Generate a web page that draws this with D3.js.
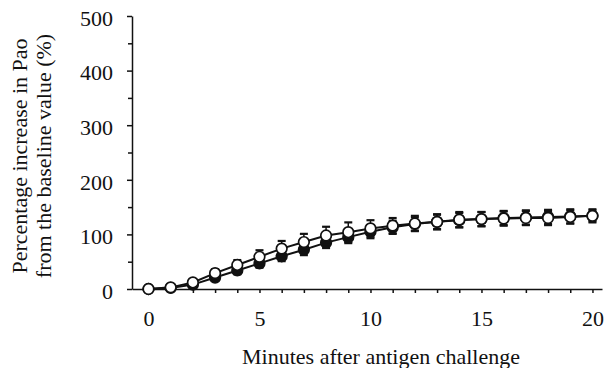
<!DOCTYPE html>
<html>
<head>
<meta charset="utf-8">
<script src="https://cdn.jsdelivr.net/npm/d3@7"></script>
<style>
  body { margin: 0; background: #fff; }
  svg text { font-family: 'Liberation Serif', 'DejaVu Serif', serif !important; }
</style>
</head>
<body>
<svg id="vis" width="604" height="368"></svg>
<script>
const svg = d3.select("#vis");

// values (percent increase, minutes)
const minutes = [0, 1, 2, 3, 4, 5, 6, 7, 8, 9, 10, 11, 12, 13, 14, 15, 16, 17, 18, 19, 20];
const filledMean = [0, 2, 8, 21, 34, 47, 60, 72, 85, 95, 105, 113, 119, 123, 126, 128, 130, 131, 132, 133, 134];
const filledErr = [0, 2, 4, 6, 7, 8, 9, 10, 10, 11, 12, 12, 12, 13, 13, 13, 13, 13, 13, 13, 12];
const openMean = [0, 3, 12, 29, 44, 59, 74, 86, 98, 104, 111, 116, 120, 123, 127, 128, 129, 130, 130, 132, 134];
const openErr = [0, 2, 5, 7, 9, 12, 14, 15, 16, 18, 15, 14, 14, 14, 14, 13, 13, 13, 13, 12, 10];
const yTicks = [0, 100, 200, 300, 400, 500];
const yMinor = [50, 150, 250, 350, 450];
const xTicks = [0, 5, 10, 15, 20];

const x = d3.scaleLinear().domain([-0.743, 20.43]).range([132, 602]);
const y = d3.scaleLinear().domain([0, 500]).range([289, 16]);

const filled = minutes.map((m, i) => ({m: m, v: filledMean[i], e: filledErr[i]}));
const open = minutes.map((m, i) => ({m: m, v: openMean[i], e: openErr[i]}));

// axes
const yAxis = svg.append("g").attr("transform", "translate(132,0)")
  .call(d3.axisLeft(y).tickValues(yTicks).tickSize(5).tickSizeOuter(0).tickPadding(14));
yAxis.selectAll("text").attr("dy", "0.42em");
const yMinorAxis = svg.append("g").attr("transform", "translate(132,0)")
  .call(d3.axisLeft(y).tickValues(yMinor).tickSize(4).tickFormat("").tickSizeOuter(0));
yMinorAxis.select(".domain").remove();

const xAxis = svg.append("g").attr("transform", "translate(0,289)")
  .call(d3.axisBottom(x).tickValues(minutes).tickSize(4).tickSizeOuter(0).tickPadding(17)
    .tickFormat(d => xTicks.includes(d) ? d : ""));

[yAxis, yMinorAxis, xAxis].forEach(g => {
  g.attr("font-family", null).attr("font-size", 22);
  g.selectAll("line, path").attr("stroke", "#111").attr("stroke-width", 1.5);
  g.selectAll("text").attr("fill", "#111");
});

// lines
const line = d3.line().x(d => x(d.m)).y(d => y(d.v));

function drawSeries(data, fill) {
  const g = svg.append("g");
  g.selectAll(".err").data(data.filter(d => d.e > 0)).join("g").each(function(d) {
    const s = d3.select(this);
    s.append("line").attr("x1", x(d.m)).attr("x2", x(d.m))
      .attr("y1", y(d.v - d.e)).attr("y2", y(d.v + d.e))
      .attr("stroke", "#111").attr("stroke-width", 1.5);
    [d.v - d.e, d.v + d.e].forEach(v => {
      s.append("line").attr("x1", x(d.m) - 4).attr("x2", x(d.m) + 4)
        .attr("y1", y(v)).attr("y2", y(v))
        .attr("stroke", "#111").attr("stroke-width", 2.2);
    });
  });
  g.append("path").datum(data).attr("d", line)
    .attr("fill", "none").attr("stroke", "#111").attr("stroke-width", 2);
  g.selectAll("circle").data(data).join("circle")
    .attr("cx", d => x(d.m)).attr("cy", d => y(d.v)).attr("r", 5.3)
    .attr("fill", fill).attr("stroke", "#111").attr("stroke-width", 1.7);
}

drawSeries(filled, "#111");
drawSeries(open, "#fff");

// titles
svg.append("text").attr("x", 381).attr("y", 364).attr("text-anchor", "middle")
  .attr("font-size", 22).attr("fill", "#111")
  .text("Minutes after antigen challenge");

const yt = svg.append("text").attr("transform", "translate(0,156) rotate(-90)")
  .attr("text-anchor", "middle").attr("font-size", 22).attr("fill", "#111");
yt.append("tspan").attr("x", 0).attr("y", 27).text("Percentage increase in Pao");
yt.append("tspan").attr("x", 0).attr("y", 51).text("from the baseline value (%)");
</script>
</body>
</html>
